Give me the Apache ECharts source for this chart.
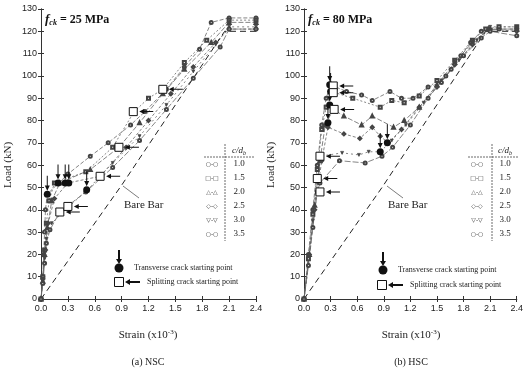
<!DOCTYPE html>
<html><head><meta charset="utf-8">
<script src="https://cdn.jsdelivr.net/npm/echarts@6/dist/echarts.min.js"></script>
<style>html,body{margin:0;padding:0;background:#fff}#c{width:526px;height:375px}</style>
</head><body><div id="c"></div>
<script>
// ---- DATA ----
var ratios = ['1.0','1.5','2.0','2.5','3.0','3.5'];
var xTicks = ['0.0','0.3','0.6','0.9','1.2','1.5','1.8','2.1','2.4'];
// NSC (fck = 25 MPa): [strain x1e-3, load kN]
var nsc10 = [[0,0],[0.02,10],[0.03,20],[0.04,30],[0.05,40],[0.07,47],[0.3,56],[0.55,64],[0.75,70],[1.0,78],[1.16,84],[1.4,94],[1.6,104],[1.77,112],[1.9,124],[2.1,126],[2.4,126]];
var nsc15 = [[0,0],[0.02,10],[0.04,22],[0.06,34],[0.09,44],[0.15,52],[0.5,57],[0.8,68],[1.04,84],[1.2,90],[1.36,94],[1.6,106],[1.85,116],[2.1,125],[2.4,125]];
var nsc20 = [[0,0],[0.02,8],[0.04,20],[0.07,32],[0.12,44],[0.21,52],[0.55,58],[0.87,68],[1.1,79],[1.36,92],[1.6,103],[1.9,115],[2.1,124],[2.4,124]];
var nsc25 = [[0,0],[0.02,9],[0.05,22],[0.08,34],[0.15,45],[0.3,52],[0.66,55],[0.95,68],[1.2,80],[1.45,92],[1.7,104],[1.95,115],[2.1,121],[2.4,121]];
var nsc30 = [[0,0],[0.02,8],[0.04,18],[0.06,27],[0.12,34],[0.3,41],[0.52,49],[0.8,61],[1.1,73],[1.4,87],[1.7,102],[1.95,114],[2.1,122],[2.4,122]];
var nsc35 = [[0,0],[0.02,7],[0.04,16],[0.06,25],[0.1,31],[0.21,39],[0.5,48],[0.8,59],[1.1,71],[1.4,85],[1.7,99],[2.0,113],[2.1,121],[2.4,121]];
var nscBare = [[0,0],[0.9,51],[2.05,120],[2.4,120]];
var nscTransverse = [[0.07,47],[0.19,52],[0.27,52],[0.31,52],[0.51,49]];
var nscSplitting = [[0.21,39],[0.3,41.5],[0.66,55],[0.87,68],[1.03,84],[1.36,94]];
// HSC (fck = 80 MPa)
var hsc10 = [[0,0],[0.05,20],[0.1,40],[0.15,60],[0.2,78],[0.25,90],[0.3,96],[0.48,93],[0.65,91.5],[0.77,89],[0.97,93],[1.1,90],[1.23,90],[1.4,95],[1.55,97],[1.66,103],[1.77,109],[1.88,115],[2.0,120],[2.2,121],[2.4,121]];
var hsc15 = [[0,0],[0.05,18],[0.1,38],[0.15,58],[0.2,76],[0.25,86],[0.31,93],[0.55,90],[0.86,86],[0.99,89],[1.13,88],[1.3,91],[1.5,98],[1.7,107],[1.9,116],[2.05,121],[2.2,122],[2.4,122]];
var hsc20 = [[0,0],[0.06,20],[0.12,42],[0.18,62],[0.24,78],[0.33,85],[0.45,82],[0.65,78],[0.77,82],[1.01,77],[1.13,80],[1.3,86],[1.5,96],[1.7,106],[1.9,115],[2.08,121],[2.4,121]];
var hsc25 = [[0,0],[0.06,20],[0.12,40],[0.2,62],[0.27,77],[0.45,74],[0.63,72],[0.77,77],[0.86,73],[0.95,70],[1.1,76],[1.3,86],[1.5,95],[1.7,105],[1.9,114],[2.1,121],[2.4,120]];
var hsc30 = [[0,0],[0.05,15],[0.1,35],[0.15,52],[0.18,64],[0.43,65.5],[0.62,64.6],[0.73,66],[0.86,66],[0.99,71],[1.15,78],[1.35,88],[1.55,98],[1.75,107],[1.95,116],[2.1,122],[2.4,122]];
var hsc35 = [[0,0],[0.05,15],[0.1,32],[0.15,48],[0.18,52],[0.4,62],[0.69,61],[0.88,64],[1.0,68],[1.2,78],[1.4,90],[1.6,100],[1.8,109],[2.0,117],[2.1,120],[2.4,118]];
var hscBare = [[0,0],[0.88,50],[2.05,120],[2.4,120]];
var hscTransverse = [[0.29,96],[0.3,93],[0.29,87],[0.27,79],[0.86,66],[0.94,70]];
var hscSplitting = [[0.33,95.5],[0.33,92.5],[0.34,85],[0.18,64],[0.15,54],[0.18,48]];

// ---- CHART ----
var chart = echarts.init(document.getElementById('c'));
var serif = 'Liberation Serif';
var sans = 'Liberation Sans';
var curveSymbols = ['emptyCircle','emptyRect','emptyTriangle','emptyDiamond','path://M0,0 L10,0 L5,9 Z','emptyCircle'];
var curveTypes = [[4,2],[2,2],[5,2],[3,2],[2,3],[6,2]];
var arrowDown = 'path://M4,0 L6,0 L6,13 L10,13 L5,20 L0,13 L4,13 Z';
var arrowLeft = 'path://M0,5 L7,0 L7,4 L20,4 L20,6 L7,6 L7,10 Z';

function axesFor(g){
  var xb = {type:'value', gridIndex:g, min:0, max:2.4, interval:0.3, position:'bottom',
    axisLine:{show:true,lineStyle:{color:'#333',width:1}},
    axisTick:{show:true,inside:true,length:3,lineStyle:{color:'#333'}},
    axisLabel:{color:'#222',fontFamily:sans,fontSize:9,margin:5,formatter:function(v){return v.toFixed(1);}},
    splitLine:{show:false}};
  var xt = {type:'value', gridIndex:g, min:0, max:2.4, interval:0.3, position:'top',
    axisLine:{show:true,lineStyle:{color:'#333',width:1}},
    axisTick:{show:true,inside:true,length:3,lineStyle:{color:'#333'}},
    axisLabel:{show:false}, splitLine:{show:false}};
  var yl = {type:'value', gridIndex:g, min:0, max:130, interval:10, position:'left',
    axisLine:{show:true,lineStyle:{color:'#333',width:1}},
    axisTick:{show:true,inside:true,length:3,lineStyle:{color:'#333'}},
    axisLabel:{color:'#222',fontFamily:sans,fontSize:9,margin:4},
    splitLine:{show:false}};
  var yr = {type:'value', gridIndex:g, min:0, max:130, interval:10, position:'right',
    axisLine:{show:true,lineStyle:{color:'#333',width:1}},
    axisTick:{show:true,inside:true,length:3,lineStyle:{color:'#333'}},
    axisLabel:{show:false}, splitLine:{show:false}};
  return {x:[xb,xt], y:[yl,yr]};
}
var a0 = axesFor(0), a1 = axesFor(1);
var xAxes = [a0.x[0], a0.x[1], a1.x[0], a1.x[1]];
var yAxes = [a0.y[0], a0.y[1], a1.y[0], a1.y[1]];

var series = [];
function addPanel(curves, bare, trans, split, xi, yi){
  curves.forEach(function(d,i){
    series.push({type:'line', name:ratios[i], xAxisIndex:xi, yAxisIndex:yi, data:d,
      symbol:curveSymbols[i], symbolSize:3, showSymbol:true, animation:false,
      lineStyle:{color:'#666',width:0.8,type:curveTypes[i]},
      itemStyle:{color:'#444',borderColor:'#444',borderWidth:0.7}});
  });
  series.push({type:'line', name:'Bare Bar', xAxisIndex:xi, yAxisIndex:yi, data:bare,
    symbol:'none', animation:false, lineStyle:{color:'#222',width:1,type:[6,4]}});
  series.push({type:'scatter', xAxisIndex:xi, yAxisIndex:yi, data:trans, symbol:arrowDown,
    symbolSize:[5,15], symbolOffset:[0,-11], animation:false, itemStyle:{color:'#111',opacity:1}, z:5});
  series.push({type:'scatter', xAxisIndex:xi, yAxisIndex:yi, data:trans, symbol:'circle',
    symbolSize:7, animation:false, itemStyle:{color:'#111',opacity:1}, z:6});
  series.push({type:'scatter', xAxisIndex:xi, yAxisIndex:yi, data:split, symbol:arrowLeft,
    symbolSize:[14,5], symbolOffset:[13,0], animation:false, itemStyle:{color:'#111',opacity:1}, z:5});
  series.push({type:'scatter', xAxisIndex:xi, yAxisIndex:yi, data:split, symbol:'rect',
    symbolSize:8, animation:false, itemStyle:{color:'#fff',borderColor:'#111',borderWidth:1,opacity:1}, z:6});
}
addPanel([nsc10,nsc15,nsc20,nsc25,nsc30,nsc35], nscBare, nscTransverse, nscSplitting, 0, 0);
addPanel([hsc10,hsc15,hsc20,hsc25,hsc30,hsc35], hscBare, hscTransverse, hscSplitting, 2, 2);

var legSym = ['○-○','□-□','△-△','◇-◇','▽-▽','○-○'];
function panelGraphics(dx, o){
  var g = [];
  g.push({type:'text', left:45+dx, top:13, style:{text:'{f|f}{s|ck}{t|'+o.fck+'}', rich:{
    f:{fontFamily:serif,fontStyle:'italic',fontWeight:'bold',fontSize:13,fill:'#111'},
    s:{fontFamily:serif,fontStyle:'italic',fontWeight:'bold',fontSize:8,fill:'#111',verticalAlign:'bottom',padding:[6,0,0,0]},
    t:{fontFamily:serif,fontWeight:'bold',fontSize:12,fill:'#111'}}}});
  g.push({type:'text', x:8+dx, y:165, rotation:Math.PI/2, style:{text:'Load (kN)', fontFamily:serif, fontSize:11, fill:'#222', align:'center', verticalAlign:'middle'}});
  g.push({type:'text', x:148+dx, y:335, style:{text:'{a|Strain (x10}{b|-3}{a|)}', align:'center', verticalAlign:'middle', rich:{
    a:{fontFamily:serif,fontSize:11,fill:'#222'}, b:{fontFamily:serif,fontSize:7,fill:'#222',verticalAlign:'top',padding:[0,0,6,0]}}}});
  g.push({type:'text', x:148+dx, y:362, style:{text:o.cap, fontFamily:serif, fontSize:10, fill:'#222', align:'center', verticalAlign:'middle'}});
  g.push({type:'text', x:o.bbx, y:205, style:{text:'Bare Bar', fontFamily:serif, fontSize:11, fill:'#222', verticalAlign:'middle'}});
  g.push({type:'line', shape:{x1:o.bbx-1, y1:186, x2:o.bbx+15, y2:198}, style:{stroke:'#444', lineWidth:0.7}});
  var tx = o.tx;
  g.push({type:'text', x:tx.val, y:151, style:{text:'{i|c/d}{s|b}', align:'center', verticalAlign:'middle', rich:{
    i:{fontFamily:serif,fontStyle:'italic',fontSize:9,fill:'#222'}, s:{fontFamily:serif,fontStyle:'italic',fontSize:6,fill:'#222',verticalAlign:'bottom',padding:[4,0,0,0]}}}});
  g.push({type:'line', shape:{x1:tx.h1, y1:157, x2:tx.h2, y2:157}, style:{stroke:'#444', lineWidth:0.8, lineDash:[2,1]}});
  g.push({type:'line', shape:{x1:tx.v, y1:144, x2:tx.v, y2:241}, style:{stroke:'#444', lineWidth:0.8, lineDash:[2,1]}});
  ratios.forEach(function(r,i){
    var y = 164 + i*14;
    g.push({type:'text', x:tx.val, y:y, style:{text:r, fontFamily:serif, fontSize:9, fill:'#222', align:'center', verticalAlign:'middle'}});
    g.push({type:'text', x:tx.sym, y:y, style:{text:legSym[i], fontFamily:'DejaVu Sans', fontSize:6, fill:'#333', align:'center', verticalAlign:'middle'}});
  });
  var L = o.leg;
  g.push({type:'polygon', shape:{points:[[L.cx-1,L.cy-18],[L.cx+1,L.cy-18],[L.cx+1,L.cy-9],[L.cx+3,L.cy-9],[L.cx,L.cy-4],[L.cx-3,L.cy-9],[L.cx-1,L.cy-9]]}, style:{fill:'#111'}});
  g.push({type:'circle', shape:{cx:L.cx, cy:L.cy, r:4.5}, style:{fill:'#111'}});
  g.push({type:'text', x:L.t1, y:L.cy, style:{text:'Transverse crack starting point', fontFamily:serif, fontSize:8, fill:'#222', verticalAlign:'middle'}});
  g.push({type:'rect', shape:{x:L.sx-4.5, y:L.sy-4.5, width:9, height:9}, style:{fill:'#fff', stroke:'#111', lineWidth:1}});
  g.push({type:'polygon', shape:{points:[[L.sx+6,L.sy],[L.sx+11,L.sy-3],[L.sx+11,L.sy-1],[L.sx+21,L.sy-1],[L.sx+21,L.sy+1],[L.sx+11,L.sy+1],[L.sx+11,L.sy+3]]}, style:{fill:'#111'}});
  g.push({type:'text', x:L.t2, y:L.sy, style:{text:'Splitting crack starting point', fontFamily:serif, fontSize:8, fill:'#222', verticalAlign:'middle'}});
  return g;
}
var graphics = panelGraphics(0, {fck:' = 25 MPa', cap:'(a) NSC', bbx:124,
    tx:{sym:212, v:225, val:239, h1:204, h2:255},
    leg:{cx:119, cy:268, t1:134, sx:119, sy:282, t2:147}})
  .concat(panelGraphics(263, {fck:' = 80 MPa', cap:'(b) HSC', bbx:388,
    tx:{sym:477, v:492, val:505, h1:468, h2:518},
    leg:{cx:383, cy:270, t1:398, sx:382, sy:285, t2:410}}));

chart.setOption({
  animation:false,
  backgroundColor:'#fff',
  grid:[{left:41, top:9, width:215, height:290, containLabel:false},
        {left:304, top:9, width:216, height:290, containLabel:false}],
  xAxis:xAxes, yAxis:yAxes, series:series, graphic:graphics
});
</script></body></html>
